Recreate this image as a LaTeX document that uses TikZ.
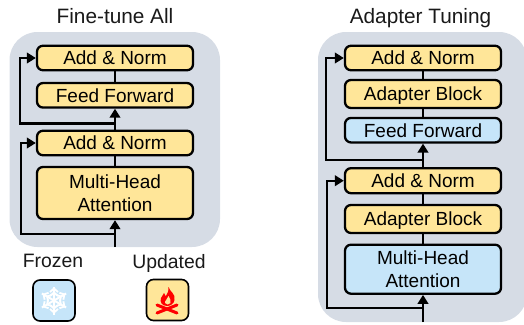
\documentclass[tikz,border=0pt]{standalone}
\usepackage{fontspec}
\setmainfont{Liberation Sans}
\usetikzlibrary{arrows.meta}

\definecolor{panelgray}{HTML}{D6DCE5}
\definecolor{updatedyellow}{HTML}{FFE699}
\definecolor{frozenblue}{HTML}{C6E5F9}

\tikzset{
	panel/.style={fill=panelgray,rounded corners=28pt},
	block/.style={draw,line width=2.3pt,rounded corners=6pt,minimum width=156pt,inner sep=0pt,align=center,text depth=0pt,font=\fontsize{19}{23}\selectfont},
	updated/.style={block,fill=updatedyellow},
	frozen/.style={block,fill=frozenblue},
	title/.style={font=\fontsize{20.8}{24}\selectfont,text depth=0pt,text=black!90},
	legendlabel/.style={font=\fontsize{19.4}{23}\selectfont,text depth=0pt,text=black!90},
	icon/.style={draw,line width=1.6pt,rounded corners=7pt,minimum width=42pt,minimum height=41pt,inner sep=0pt},
	flow/.style={line width=2.3pt}
}

\begin{document}
\begin{tikzpicture}[x=1pt,y=-1pt,>={Triangle[length=9pt,width=10.5pt]}]

\useasboundingbox (0,0) rectangle (524,324);

% panels
\fill[panel] (9.5,32) rectangle (220,247);
\fill[panel] (318,32) rectangle (527,322);

\node[title] (tleft) at (115,16) {Fine-tune All};
\node[title] (tright) at (420.5,16) {Adapter Tuning};

% fine-tune all
\node[updated,minimum height=24.5pt] (addA) at (115,58) {Add \& Norm};
\node[updated,minimum height=24.5pt] (ffA) at (115,95.3) {Feed Forward};
\node[updated,minimum height=24.5pt] (addB) at (115,143) {Add \& Norm};
\node[updated,minimum height=52pt] (mhaA) at (115,193) {Multi-Head\\Attention};

\coordinate (inA) at (115,247);
\coordinate (skipA) at (115,233.7);
\coordinate (cornerA) at (20.7,233.7);
\coordinate (skipB) at (115,123.5);
\coordinate (cornerB) at (20,123.5);

\draw[flow] (addA) -- (ffA);
\draw[flow,->] (addB) -- (ffA);
\draw[flow] (addB) -- (mhaA);
\draw[flow,->] (inA) -- (mhaA);
\draw[flow,->] (skipA) -- (cornerA) |- (addB);
\draw[flow,->] (skipB) -- (cornerB) |- (addA);

% adapter tuning
\node[updated,minimum height=24.5pt] (addC) at (423,58) {Add \& Norm};
\node[updated,minimum height=28pt] (adaC) at (423,94) {Adapter Block};
\node[frozen,minimum height=24.5pt] (ffC) at (423,130.2) {Feed Forward};
\node[updated,minimum height=25pt] (addD) at (423,180.7) {Add \& Norm};
\node[updated,minimum height=28pt] (adaD) at (423,219) {Adapter Block};
\node[frozen,minimum height=49pt] (mhaD) at (423,269.2) {Multi-Head\\Attention};

\coordinate (inD) at (423,322);
\coordinate (skipD) at (423,307.7);
\coordinate (cornerD) at (327,307.7);
\coordinate (skipC) at (423,160);
\coordinate (cornerC) at (326,160);

\draw[flow] (addC) -- (adaC);
\draw[flow] (adaC) -- (ffC);
\draw[flow,->] (addD) -- (ffC);
\draw[flow] (addD) -- (adaD);
\draw[flow] (adaD) -- (mhaD);
\draw[flow,->] (inD) -- (mhaD);
\draw[flow,->] (skipD) -- (cornerD) |- (addD);
\draw[flow,->] (skipC) -- (cornerC) |- (addC);

% legend
\node[legendlabel] (tfrozen) at (53,261) {Frozen};
\node[legendlabel] (tupdated) at (169,261) {Updated};
\node[icon,fill=frozenblue] (frozenicon) at (54,300.5) {};
\node[icon,fill=updatedyellow] (updatedicon) at (167.5,300) {};

% snowflake
\foreach \a in {30,90,...,330} {
	\begin{scope}[shift={(frozenicon.center)},rotate=\a]
		\draw[white,line width=2pt] (0,0) -- (14,0);
		\draw[white,line width=1.8pt] (4.5,4) -- (8,0) -- (4.5,-4);
		\draw[white,line width=1.8pt] (8.5,4) -- (12,0) -- (8.5,-4);
	\end{scope}
}

% fire
\fill[red] (168.5,287) .. controls (170,292) and (176,294) .. (174.5,300)
	.. controls (174,304) and (170,306) .. (167,306)
	.. controls (162,306) and (159.5,302) .. (161,298)
	.. controls (162,296) and (163,295) .. (164,293)
	.. controls (165,295) and (165.5,296) .. (166,296)
	.. controls (168,293) and (169,290) .. (168.5,287) -- cycle;
\fill[updatedyellow] (168.5,296) .. controls (169,299) and (172,300) .. (170.5,303)
	.. controls (169,305) and (166,305) .. (165,303)
	.. controls (164.5,301) and (167.5,299) .. (168.5,296) -- cycle;
\draw[red,line width=3pt,line cap=round] (157,305) -- (177,313);
\draw[red,line width=3pt,line cap=round] (177,305) -- (157,313);

\end{tikzpicture}
\end{document}
